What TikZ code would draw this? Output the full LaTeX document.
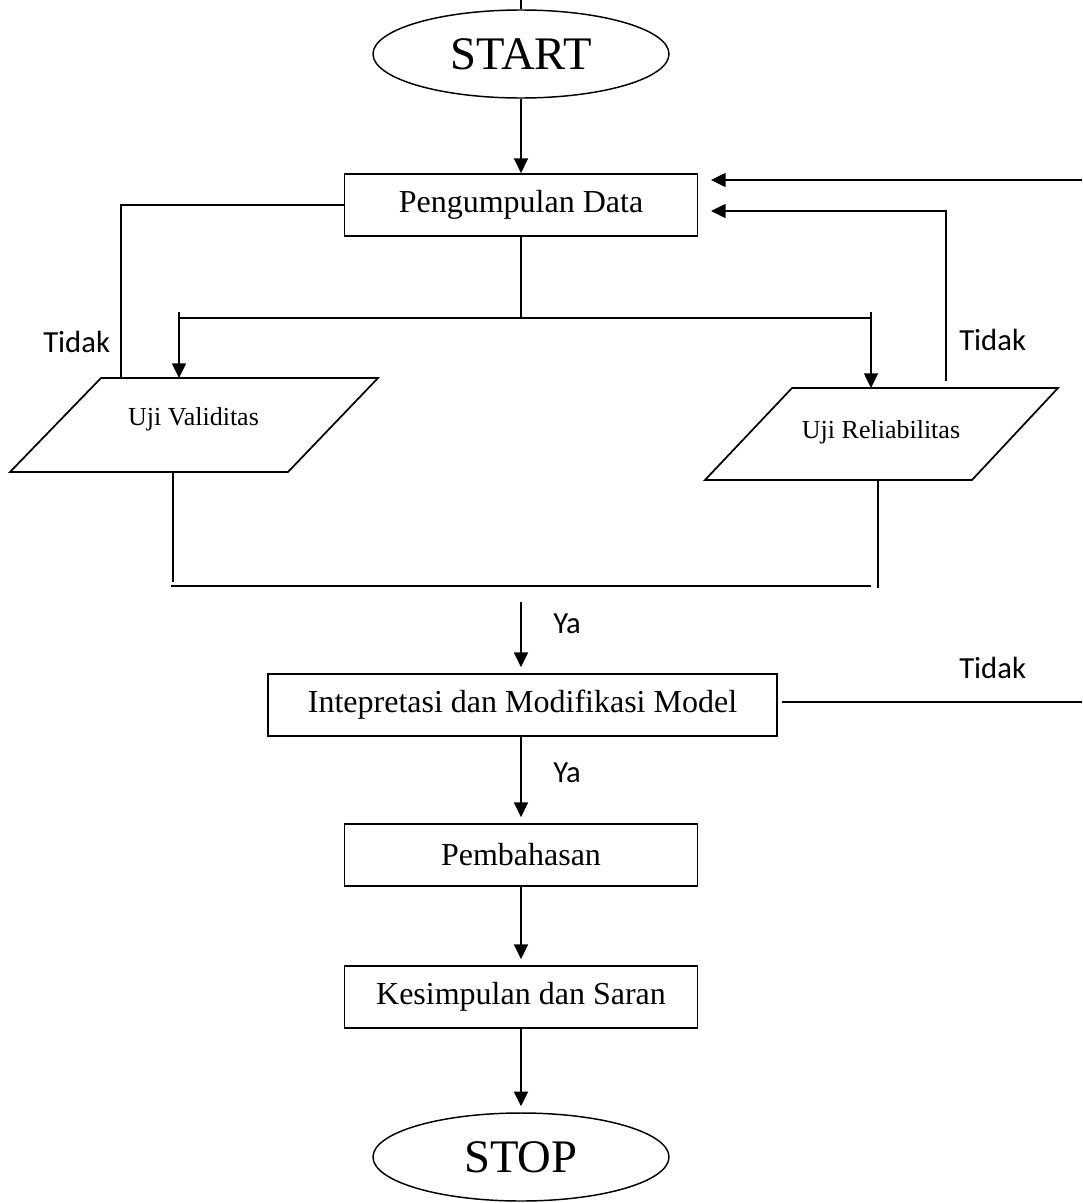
\documentclass[tikz,border=0pt]{standalone}
\usepackage{fontspec}
\setmainfont{Liberation Serif}
\newfontfamily\labelfont{Carlito}
\usetikzlibrary{arrows.meta,shapes.geometric}
\begin{document}
\begin{tikzpicture}[x=0.75pt,y=-0.75pt,
  box/.style={draw,line width=1.3pt,inner sep=0pt,minimum height=46.5pt,font=\fontsize{24}{28}\selectfont},
  term/.style={draw,ellipse,line width=1.1pt,inner sep=0pt,minimum width=222pt,minimum height=66pt,font=\fontsize{35}{40}\selectfont},
  conn/.style={line width=1.1pt},
  arr/.style={conn,-{Triangle[length=11pt,width=10.5pt]},shorten >=4.5pt},
  arrt/.style={conn,-{Triangle[length=11pt,width=10.5pt]}},
  lbl/.style={inner sep=0pt,anchor=base west,font=\labelfont\fontsize{23}{27}\selectfont},
  io/.style={line width=1.3pt},
  iotext/.style={inner sep=0pt,anchor=base,font=\fontsize{19.5}{23}\selectfont}]

\useasboundingbox (0,0) rectangle (1082,1203);

% terminals and process boxes
\node[term] (start) at (521,54) {START};
\node[box,minimum width=264.75pt] (pd) at (521,205) {Pengumpulan Data};
\node[box,minimum width=381.75pt] (int) at (522.5,705) {Intepretasi dan Modifikasi Model};
\node[box,minimum width=264.75pt] (pem) at (521,855) {Pembahasan};
\node[box,minimum width=264.75pt] (kes) at (521,997) {Kesimpulan dan Saran};
\node[term] (stop) at (521,1157) {STOP};

% parallelograms
\coordinate (v1) at (101,378);
\coordinate (v2) at (378,378);
\coordinate (v3) at (288,472);
\coordinate (v4) at (10,472);
\draw[io] (v1) -- (v2) -- (v3) -- (v4) -- cycle;
\node[iotext] (uv) at (193.5,425) {Uji Validitas};

\coordinate (r1) at (792,388);
\coordinate (r2) at (1058,388);
\coordinate (r3) at (972,480);
\coordinate (r4) at (705,480);
\draw[io] (r1) -- (r2) -- (r3) -- (r4) -- cycle;
\node[iotext] (ur) at (881,438) {Uji Reliabilitas};

% named connector points
\coordinate (topend) at (521,0);
\coordinate (ina) at (1082,180);
\coordinate (inaEnd) at (711,180);
\coordinate (inb) at (946,381);
\coordinate (inbEnd) at (711,211);
\coordinate (vtop) at (121,378);
\coordinate (split) at (521,318);
\coordinate (splL) at (179,318);
\coordinate (splR) at (870,318);
\coordinate (tickL) at (179,312);
\coordinate (tickR) at (871,312);
\coordinate (vArr) at (179,378);
\coordinate (rArr) at (871,388);
\coordinate (vBot) at (173,472);
\coordinate (vBotE) at (173,582);
\coordinate (rBot) at (878,480);
\coordinate (rBotE) at (878,588);
\coordinate (joinL) at (171,586);
\coordinate (joinR) at (871,586);
\coordinate (yaStart) at (521,602);
\coordinate (outS) at (782,702);
\coordinate (outE) at (1082,702);

% connectors
\draw[conn] (topend) -- (start.north);
\draw[arrt] (start.south) -- (pd.north);
\draw[arrt] (ina) -- (inaEnd);
\draw[arrt] (inb) |- (inbEnd);
\draw[conn] (vtop) |- (pd.west);
\draw[conn] (pd.south) -- (split);
\draw[conn] (splL) -- (splR);
\draw[arrt] (tickL) -- (vArr);
\draw[arrt] (tickR) -- (rArr);
\draw[conn] (vBot) -- (vBotE);
\draw[conn] (rBot) -- (rBotE);
\draw[conn] (joinL) -- (joinR);
\draw[arr] (yaStart) -- (yaStart |- int.north);
\draw[conn] (outS) -- (outE);
\draw[arr] (int.south -| pem.north) -- (pem.north);
\draw[arr] (pem.south) -- (kes.north);
\draw[arr] (kes.south) -- (stop.north);

% labels
\node[lbl] (t1) at (43,352) {Tidak};
\node[lbl] (t2) at (959,350) {Tidak};
\node[lbl] (t3) at (959,678) {Tidak};
\node[lbl] (y1) at (553,633) {Ya};
\node[lbl] (y2) at (553,782) {Ya};
\end{tikzpicture}
\end{document}
